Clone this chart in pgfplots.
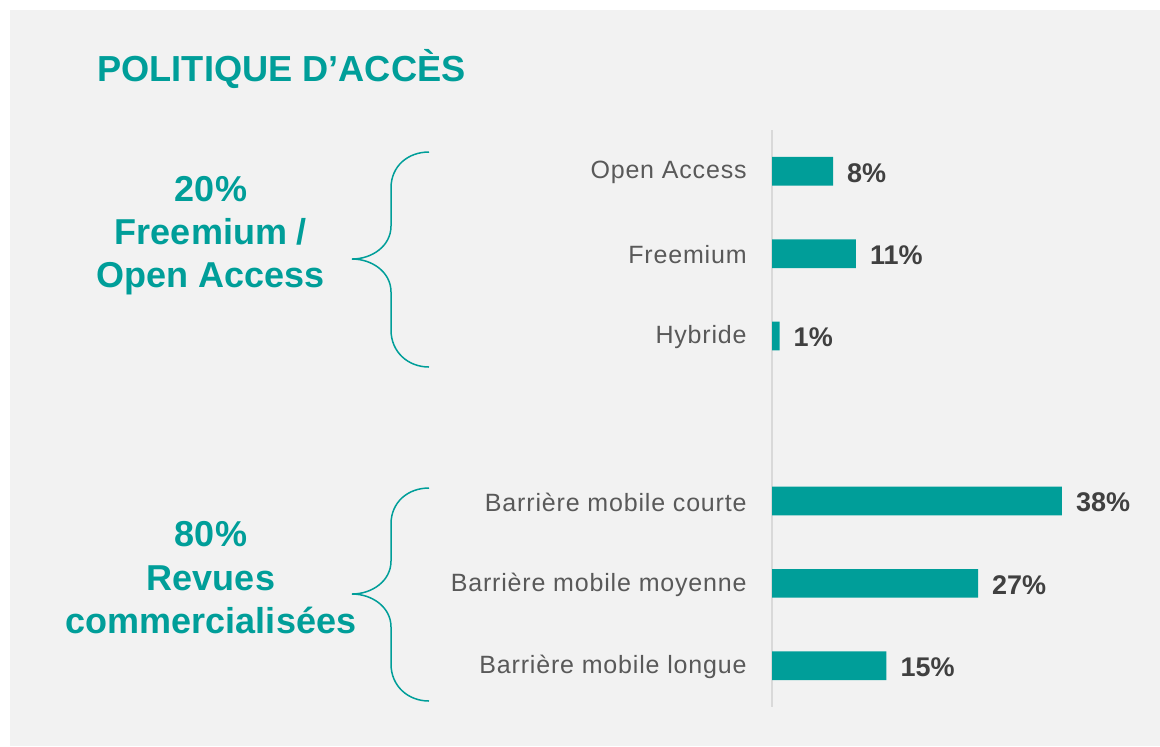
\documentclass[border=0pt]{standalone}
\usepackage{pgfplots}
\pgfplotsset{compat=1.18}
\usepackage{fontspec}
\setmainfont{Liberation Sans}
\newfontfamily\labelfont[LetterSpace=3.3]{Liberation Sans}
\definecolor{accent}{HTML}{009E99}
\definecolor{panel}{HTML}{F2F2F2}
\definecolor{labelgray}{HTML}{595959}
\definecolor{valgray}{HTML}{404040}
\definecolor{axisgray}{HTML}{D9D9D9}

\begin{document}
\begin{tikzpicture}
% background and decorations, in pixel units (y downward)
\begin{scope}[x=0.5pt,y=-0.5pt]
\useasboundingbox (0,0) rectangle (1160,746);
\fill[white] (0,0) rectangle (1160,746);
\fill[panel] (10,10) rectangle (1160,746);
\node[anchor=base west, inner sep=0pt, text=accent,
      font=\fontsize{18.1pt}{22pt}\selectfont\bfseries] at (97,81) {POLITIQUE D’ACCÈS};
% group texts
\begin{scope}[every node/.style={anchor=base, inner sep=0pt, text=accent,
      font=\fontsize{18pt}{21pt}\selectfont\bfseries}]
\node at (211,201) {20\%};
\node at (211,244) {Freemium /};
\node at (211,287) {Open Access};
\node at (211,546) {80\%};
\node at (211,590) {Revues};
\node at (211,633) {commercialisées};
\end{scope}
% braces
\draw[accent, line width=0.75pt]
  (429,152) .. controls (408,152) and (391,166) .. (391,188) -- (391,226)
  .. controls (391,246) and (372,259) .. (352,259)
  .. controls (372,259) and (391,272) .. (391,292) -- (391,330)
  .. controls (391,352) and (408,367) .. (429,367);
\draw[accent, line width=0.75pt]
  (429,488) .. controls (408,488) and (391,502) .. (391,524) -- (391,561)
  .. controls (391,581) and (372,594) .. (352,594)
  .. controls (372,594) and (391,607) .. (391,627) -- (391,664)
  .. controls (391,686) and (408,701) .. (429,701);
\end{scope}

\begin{axis}[
  at={(386pt,-65pt)}, anchor=north west,
  scale only axis, width=190.75pt, height=288.5pt,
  xmin=0, xmax=50, ymin=-0.5, ymax=6.5, y dir=reverse,
  axis x line=none, axis y line*=left,
  y axis line style={-, draw=axisgray, line width=0.75pt},
  xtick=\empty,
  ytick={0,1,2,4,5,6},
  yticklabels={Open Access, Freemium, Hybride, Barrière mobile courte,
               Barrière mobile moyenne, Barrière mobile longue},
  major tick length=0pt,
  yticklabel style={inner sep=0pt, xshift=-12.5pt, yshift=-0.6pt, text=labelgray,
                    font=\labelfont\fontsize{12.5pt}{15pt}\selectfont},
  xbar, bar width=14.35pt,
  clip=false,
  nodes near coords={\pgfmathprintnumber{\pgfplotspointmeta}\%},
  nodes near coords align=horizontal,
  every node near coord/.append style={inner sep=0pt, xshift=6.85pt, yshift=-0.8pt,
      text=valgray, font=\fontsize{13.5pt}{16pt}\selectfont\bfseries,
      /pgf/number format/assume math mode=true},
]
\addplot[fill=accent, draw=none] coordinates {
  (8,0) (11,1) (1,2) (38,4) (27,5) (15,6)
};
\end{axis}
\end{tikzpicture}
\end{document}
